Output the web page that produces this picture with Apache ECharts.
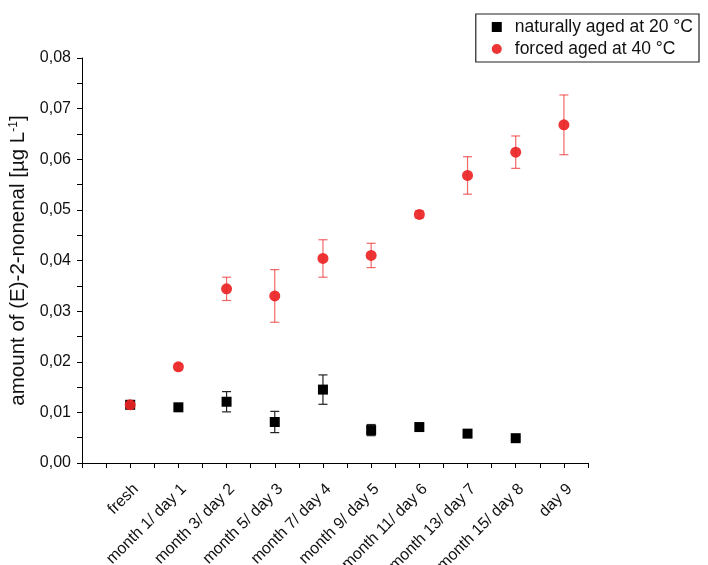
<!DOCTYPE html>
<html>
<head>
<meta charset="utf-8">
<script src="https://cdn.jsdelivr.net/npm/echarts@6/dist/echarts.min.js"></script>
<style>html,body{margin:0;padding:0;background:#fff}#c{width:708px;height:565px}</style>
</head>
<body>
<div id="c"></div>
<script>
const categories = ['fresh','month 1/ day 1','month 3/ day 2','month 5/ day 3','month 7/ day 4','month 9/ day 5','month 11/ day 6','month 13/ day 7','month 15/ day 8','day 9'];
const naturalValues = [0.0115, 0.0110, 0.0121, 0.0081, 0.0145, 0.0065, 0.0071, 0.0058, 0.0049, null];
const naturalErrors = [0.0004, 0.0003, 0.0020, 0.0021, 0.0029, 0.0011, 0.0003, 0.0003, 0.0003, null];
const forcedValues = [0.0115, 0.0190, 0.0344, 0.0330, 0.0404, 0.0410, 0.0491, 0.0568, 0.0614, 0.0668];
const forcedErrors = [0.0004, 0.0006, 0.0023, 0.0052, 0.0037, 0.0024, 0.0007, 0.0037, 0.0032, 0.0059];
const yTicks = [0, 0.01, 0.02, 0.03, 0.04, 0.05, 0.06, 0.07, 0.08];

function pts(vals, errs) {
  const out = [];
  vals.forEach((v, i) => { if (v !== null) out.push([i, v, errs[i]]); });
  return out;
}
function errSeries(data, color) {
  return {
    type: 'custom', silent: true, data: data, z: 2,
    encode: { x: 0, y: 1 },
    renderItem: function (params, api) {
      const x = api.value(0), y = api.value(1), e = api.value(2);
      const top = api.coord([x, y + e]);
      const bot = api.coord([x, y - e]);
      const hw = 4.5;
      const st = { stroke: color, lineWidth: 1.2 };
      return { type: 'group', children: [
        { type: 'line', shape: { x1: top[0], y1: top[1], x2: bot[0], y2: bot[1] }, style: st },
        { type: 'line', shape: { x1: top[0] - hw, y1: top[1], x2: top[0] + hw, y2: top[1] }, style: st },
        { type: 'line', shape: { x1: bot[0] - hw, y1: bot[1], x2: bot[0] + hw, y2: bot[1] }, style: st }
      ]};
    }
  };
}

const chart = echarts.init(document.getElementById('c'));
const font = 'Arial, "Liberation Sans", sans-serif';
chart.setOption({
  animation: false,
  textStyle: { fontFamily: font },
  grid: { left: 82, right: 120, top: 58, bottom: 102, containLabel: false, outerBoundsMode: 'none' },
  legend: {
    data: [{ name: 'naturally aged at 20 °C', icon: 'rect' }, { name: 'forced aged at 40 °C', icon: 'circle' }],
    orient: 'vertical', right: 9, top: 14,
    borderColor: '#222', borderWidth: 1.2, borderRadius: 0,
    padding: [4, 6, 4, 16], itemGap: 4,
    itemWidth: 10, itemHeight: 10,
    textStyle: { fontSize: 17.5, color: '#111', fontFamily: font, padding: [0, 0, 0, 8] }
  },
  xAxis: {
    type: 'value', min: -1, max: 9.5, interval: 0.5,
    axisLine: { show: true, onZero: false, lineStyle: { color: '#000', width: 1 } },
    axisTick: { show: true, length: 5, lineStyle: { color: '#000' } },
    splitLine: { show: false },
    axisLabel: {
      rotate: 45, fontSize: 16, color: '#111', margin: 18, verticalAlign: 'top',
      formatter: function (v) {
        const i = Math.round(v);
        return (Math.abs(v - i) < 1e-6 && i >= 0 && i < categories.length) ? categories[i] : '';
      }
    }
  },
  yAxis: {
    type: 'value', min: yTicks[0], max: yTicks[yTicks.length - 1], interval: 0.01,
    name: 'amount of (E)-2-nonenal [µg L{sup|-1}]',
    nameLocation: 'middle', nameGap: 44, nameRotate: 90,
    nameTextStyle: { fontSize: 20.5, color: '#111', fontFamily: font,
      rich: { sup: { fontSize: 12, verticalAlign: 'top', color: '#111', fontFamily: font, padding: [0, 0, 9, 0] } } },
    axisLine: { show: true, onZero: false, lineStyle: { color: '#000', width: 1 } },
    axisTick: { show: true, length: 5, lineStyle: { color: '#000' } },
    minorTick: { show: true, splitNumber: 2, length: 5, lineStyle: { color: '#000' } },
    splitLine: { show: false },
    axisLabel: { fontSize: 16, color: '#111', margin: 11,
      formatter: function (v) { return v.toFixed(2).replace('.', ','); } }
  },
  series: [
    errSeries(pts(naturalValues, naturalErrors), '#222'),
    {
      name: 'naturally aged at 20 °C', type: 'scatter', symbol: 'rect', symbolSize: 10, z: 3,
      itemStyle: { color: '#000', opacity: 1 },
      data: pts(naturalValues, naturalErrors).map(p => [p[0], p[1]])
    },
    errSeries(pts(forcedValues, forcedErrors), 'rgba(236,40,40,0.7)'),
    {
      name: 'forced aged at 40 °C', type: 'scatter', symbol: 'circle', symbolSize: 11, z: 5,
      itemStyle: { color: 'rgb(236,36,36)', opacity: 0.92 },
      data: pts(forcedValues, forcedErrors).map(p => [p[0], p[1]])
    }
  ]
});
</script>
</body>
</html>
